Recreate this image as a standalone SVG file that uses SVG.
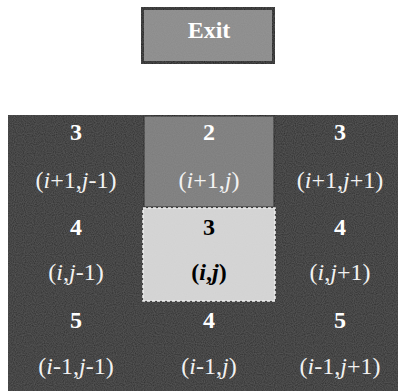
<svg xmlns="http://www.w3.org/2000/svg" width="398" height="391" viewBox="0 0 398 391">
  <style>
    .num { font-family: "Liberation Serif", "Times New Roman", serif; font-size: 24px; font-weight: bold; text-anchor: middle; fill: #ffffff; }
    .lbl { font-family: "Liberation Serif", "Times New Roman", serif; font-size: 24px; text-anchor: middle; fill: #f2f2f2; }
    .dark { fill: #262626; }
    .it { font-style: italic; }
    .blk { fill: #000000; }
  </style>
  <defs>
    <filter id="grain" x="0" y="0" width="100%" height="100%">
      <feTurbulence type="fractalNoise" baseFrequency="0.9" numOctaves="1" seed="3" result="n"/>
      <feColorMatrix in="n" type="matrix" values="0 0 0 0 0.5  0 0 0 0 0.5  0 0 0 0 0.5  0 0 0 0.18 0" result="g"/>
      <feComposite in="g" in2="SourceGraphic" operator="atop"/>
    </filter>
  </defs>
  <rect width="398" height="391" fill="#ffffff"/>

  <g id="exit">
    <rect x="141.5" y="7.5" width="133" height="56" fill="#8a8a8a" stroke="#0a0a0a" stroke-width="5" filter="url(#grain)"/>
    <text x="209" y="38" class="num">Exit</text>
  </g>

  <g id="grid-background">
    <rect x="8" y="115" width="390" height="276" class="dark" filter="url(#grain)"/>
  </g>

  <g id="cell-top-mid">
    <rect x="143" y="115" width="132" height="93" fill="#7a7a7a" stroke="#0a0a0a" stroke-width="3" filter="url(#grain)"/>
    <text x="209" y="140" class="num">2</text>
    <text x="209" y="188" class="lbl">(<tspan class="it">i</tspan>+1,<tspan class="it">j</tspan>)</text>
  </g>

  <g id="cell-center">
    <rect x="143" y="208" width="132" height="93" fill="#d6d6d6" filter="url(#grain)"/>
    <rect x="143" y="208" width="132" height="93" fill="none" stroke="#f0f0f0" stroke-width="1.5" stroke-dasharray="3 2"/>
    <text x="209" y="235" class="num blk">3</text>
    <text x="209" y="280" class="lbl blk" font-weight="bold">(<tspan class="it">i</tspan>,<tspan class="it">j</tspan>)</text>
  </g>

  <g id="cell-top-left">
    <text x="76" y="140" class="num">3</text>
    <text x="76" y="188" class="lbl">(<tspan class="it">i</tspan>+1,<tspan class="it">j</tspan>-1)</text>
  </g>
  <g id="cell-top-right">
    <text x="340" y="140" class="num">3</text>
    <text x="340" y="188" class="lbl">(<tspan class="it">i</tspan>+1,<tspan class="it">j</tspan>+1)</text>
  </g>
  <g id="cell-mid-left">
    <text x="76" y="235" class="num">4</text>
    <text x="76" y="280" class="lbl">(<tspan class="it">i</tspan>,<tspan class="it">j</tspan>-1)</text>
  </g>
  <g id="cell-mid-right">
    <text x="340" y="235" class="num">4</text>
    <text x="340" y="280" class="lbl">(<tspan class="it">i</tspan>,<tspan class="it">j</tspan>+1)</text>
  </g>
  <g id="cell-bot-left">
    <text x="76" y="328" class="num">5</text>
    <text x="76" y="374" class="lbl">(<tspan class="it">i</tspan>-1,<tspan class="it">j</tspan>-1)</text>
  </g>
  <g id="cell-bot-mid">
    <text x="209" y="328" class="num">4</text>
    <text x="209" y="374" class="lbl">(<tspan class="it">i</tspan>-1,<tspan class="it">j</tspan>)</text>
  </g>
  <g id="cell-bot-right">
    <text x="340" y="328" class="num">5</text>
    <text x="340" y="374" class="lbl">(<tspan class="it">i</tspan>-1,<tspan class="it">j</tspan>+1)</text>
  </g>

  <g id="connectors"/>
</svg>
